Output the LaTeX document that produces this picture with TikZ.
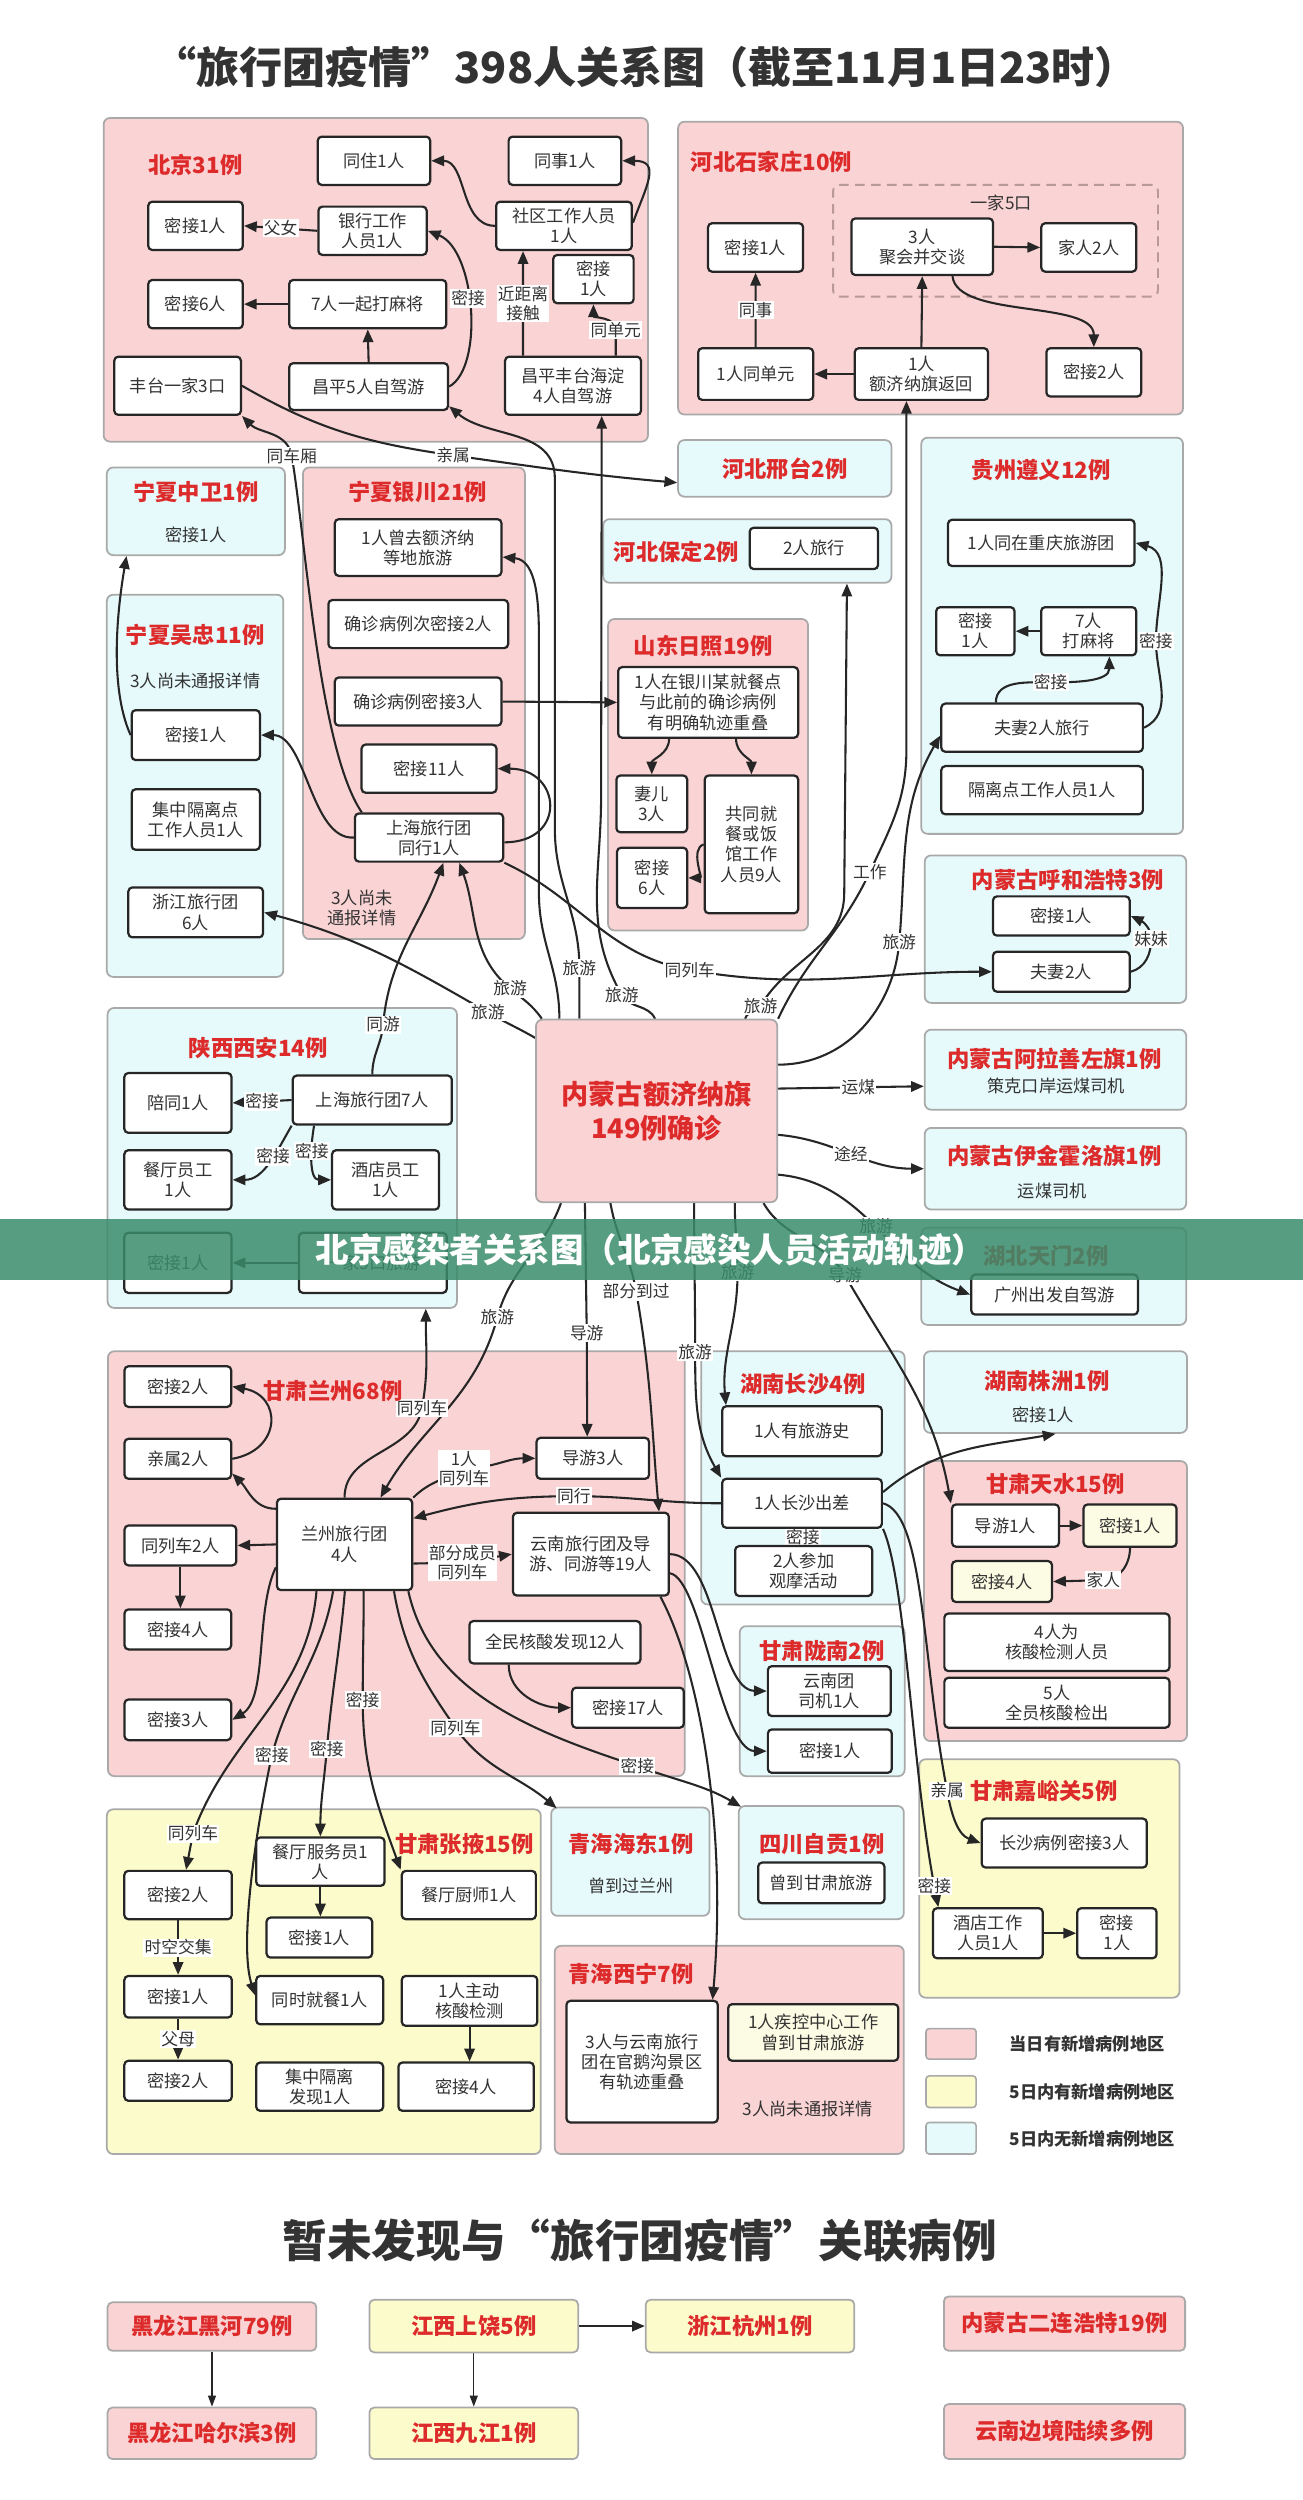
\documentclass[tikz,border=0pt]{standalone}
\usepackage{fontspec}
\setmainfont{Noto Sans CJK SC}
\usetikzlibrary{arrows.meta,calc}
\definecolor{ink}{HTML}{262626}
\definecolor{txt}{HTML}{333333}
\definecolor{pinkf}{HTML}{FAD3D4}
\definecolor{bluef}{HTML}{E6FAFB}
\definecolor{yelf}{HTML}{FCFBCB}
\definecolor{creamf}{HTML}{FCFBE3}
\definecolor{rgline}{HTML}{A9A9A9}
\definecolor{redt}{HTML}{DD2A2A}
\definecolor{bann}{HTML}{3A8C6C}
\definecolor{dashc}{HTML}{B89898}
\pgfdeclarelayer{bg}
\pgfdeclarelayer{edges}
\pgfdeclarelayer{fg}
\pgfsetlayers{bg,edges,main,fg}
\newcommand{\mybx}[7][bx]{\node[#1,minimum width={#5-#3},minimum height={#6-#4}] (#2) at ({(#3+#5)/2},{(#4+#6)/2}) {#7};}
\tikzset{
 bx/.style={draw=ink, line width=1.4pt, rounded corners=2.5pt, fill=white, align=center, inner sep=1pt, text=txt, font=\fontsize{10.8}{12.6}\selectfont},
 cr/.style={bx, fill=creamf},
 rg/.style={draw=rgline, line width=1.1pt, rounded corners=4pt, inner sep=0pt},
 pk/.style={rg, fill=pinkf}, bl/.style={rg, fill=bluef}, yl/.style={rg, fill=yelf},
 dsh/.style={draw=dashc, dash pattern=on 6pt off 4pt, line width=1.2pt, rounded corners=4pt, inner sep=0pt},
 efill/.style={draw=rgline, line width=1.1pt, rounded corners=4pt, fill=pinkf, text=redt, align=center, inner sep=0pt, font=\bfseries\fontsize{17}{21}\selectfont},
 ttl/.style={text=redt, font=\bfseries\fontsize{14}{16}\selectfont, inner sep=0pt},
 plain/.style={text=txt, font=\fontsize{10.8}{12.6}\selectfont, align=center, inner sep=0pt},
 lab/.style={fill=white, text=txt, font=\fontsize{10.5}{12}\selectfont, inner sep=0.8pt, align=center},
 ar/.style={draw=ink, line width=1.3pt, -{Triangle[length=8pt,width=6.5pt]}},
 thinar/.style={draw=ink, line width=0.9pt, -{Triangle[length=7pt,width=5pt]}},
 bt/.style={draw=rgline, line width=1.1pt, rounded corners=3pt, text=redt, inner sep=0pt, font=\bfseries\fontsize{14}{16}\selectfont},
 lgsq/.style={draw=rgline, line width=1pt, rounded corners=2pt, inner sep=0pt},
 lgt/.style={text=txt, font=\bfseries\fontsize{10.8}{12}\selectfont, anchor=west, inner sep=0pt},
}
\begin{document}
\begin{tikzpicture}[x=1pt,y=-1pt]
\useasboundingbox (0,0) rectangle (817,1568);
\begin{pgfonlayer}{bg}
\fill[white] (0,0) rectangle (817,1568);
\mybx[pk]{bj}{65}{74}{406.4}{277}{}
\mybx[pk]{sjz}{425.3}{76.3}{742}{260}{}
\mybx[bl]{xt}{425.3}{276}{559.1}{311.5}{}
\mybx[bl]{bd}{378.3}{325.6}{559.1}{365.5}{}
\mybx[bl]{zw}{67}{293.2}{178.7}{348.2}{}
\mybx[bl]{wz}{67}{373}{177.7}{612.7}{}
\mybx[pk]{yc}{190}{293.2}{329.2}{589}{}
\mybx[pk]{sd}{381.4}{388.2}{506.8}{583.6}{}
\mybx[bl]{gz}{577.8}{274.5}{742}{523}{}
\mybx[bl]{hh}{580}{536.5}{744}{629}{}
\mybx[bl]{xa}{67.5}{632.2}{286.6}{820.3}{}
\mybx[bl]{als}{580}{645.8}{744}{696}{}
\mybx[bl]{yj}{580}{707.4}{744}{758.6}{}
\mybx[bl]{tm}{577.8}{770.1}{744}{831}{}
\mybx[pk]{lz}{67.7}{847.5}{429.4}{1114}{}
\mybx[bl]{cs}{439.8}{847.5}{567.4}{1006.3}{}
\mybx[bl]{zz}{579.5}{847.5}{744.5}{898.7}{}
\mybx[pk]{ts}{579.5}{916.4}{744.5}{1092}{}
\mybx[bl]{ln}{464}{1019.9}{567.4}{1114}{}
\mybx[yl]{jyg}{576.5}{1103.4}{739.8}{1252.9}{}
\mybx[yl]{zy}{67}{1134.8}{339.2}{1351}{}
\mybx[bl]{hd}{345.7}{1133.7}{445}{1201.6}{}
\mybx[bl]{zg}{463.3}{1132.7}{566.9}{1203.7}{}
\mybx[pk]{xn}{347.9}{1220.4}{566.9}{1351}{}
\mybx[dsh]{fam}{522.5}{116}{726.3}{186}{}
\end{pgfonlayer}

% titles
\node[text=txt, font=\bfseries\fontsize{27}{30}\selectfont, inner sep=0pt] (title) at (405,42) {“旅行团疫情”398人关系图（截至11月1日23时）};
\node[ttl] (bj_t) at (122.5,103.5) {北京31例};
\node[ttl] (sjz_t) at (483.8,101.4) {河北石家庄10例};
\node[plain] (fam_t) at (628,127.5) {一家5口};
\node[ttl] (xt_t) at (492.2,294) {河北邢台2例};
\node[ttl] (bd_t) at (424.3,346) {河北保定2例};
\node[ttl] (zw_t) at (122.8,308.3) {宁夏中卫1例};
\node[plain] (zw_x) at (122.8,335.3) {密接1人};
\node[ttl] (wz_t) at (122.5,397.9) {宁夏吴忠11例};
\node[plain] (wz_x) at (122.5,427) {3人尚未通报详情};
\node[ttl] (yc_t) at (262,308.3) {宁夏银川21例};
\node[plain] (yc_x) at (227,569.5) {3人尚未\\通报详情};
\node[ttl] (sd_t) at (441,405.4) {山东日照19例};
\node[ttl] (gz_t) at (653,294.6) {贵州遵义12例};
\node[ttl] (hh_t) at (669.8,552.1) {内蒙古呼和浩特3例};
\node[ttl] (xa_t) at (161.9,657.2) {陕西西安14例};
\node[ttl] (als_t) at (661.4,664) {内蒙古阿拉善左旗1例};
\node[plain] (als_x) at (662.5,681) {策克口岸运煤司机};
\node[ttl] (yj_t) at (661.4,725.2) {内蒙古伊金霍洛旗1例};
\node[plain] (yj_x) at (660,747.1) {运煤司机};
\node[ttl] (tm_t) at (656.2,787.9) {湖北天门2例};
\node[ttl] (lz_t) at (208.9,872.5) {甘肃兰州68例};
\node[ttl] (cs_t) at (503.6,868.4) {湖南长沙4例};
\node[ttl] (zz_t) at (656.5,866.3) {湖南株洲1例};
\node[plain] (zz_x) at (654.3,887.2) {密接1人};
\node[ttl] (ts_t) at (662,931) {甘肃天水15例};
\node[ttl] (ln_t) at (515.7,1035.6) {甘肃陇南2例};
\node[ttl] (jyg_t) at (654.8,1123.3) {甘肃嘉峪关5例};
\node[ttl] (zy_t) at (291.3,1156.7) {甘肃张掖15例};
\node[ttl] (hd_t) at (395.8,1156.7) {青海海东1例};
\node[plain] (hd_x) at (395.8,1182.8) {曾到过兰州};
\node[ttl] (zg_t) at (515.5,1156.7) {四川自贡1例};
\node[ttl] (xn_t) at (395.8,1238.2) {青海西宁7例};
\node[plain] (xn_x) at (506.8,1322.9) {3人尚未通报详情};

% Beijing
\mybx{bj_tz}{199.3}{85.7}{269.8}{116}{同住1人}
\mybx{bj_ts}{319}{85.7}{389.6}{116}{同事1人}
\mybx{bj_mj1}{93}{126.5}{152.3}{156.8}{密接1人}
\mybx{bj_yh}{199.7}{129.6}{267.6}{159.9}{银行工作\\人员1人}
\mybx{bj_sq}{311.2}{126.5}{396.3}{156.8}{社区工作人员\\1人}
\mybx{bj_mj1b}{347}{159.9}{397.4}{190.2}{密接\\1人}
\mybx{bj_mj6}{93}{175.6}{152.3}{205.9}{密接6人}
\mybx{bj_7r}{181.4}{175.6}{279.9}{205.9}{7人一起打麻将}
\mybx{bj_ft}{71.7}{223.7}{151.1}{260.2}{丰台一家3口}
\mybx{bj_cp5}{181.4}{227.8}{281}{257.1}{昌平5人自驾游}
\mybx{bj_cp4}{316.8}{223.7}{402}{260.2}{昌平丰台海淀\\4人自驾游}
% Shijiazhuang
\mybx{sjz_mj1}{444.1}{140}{503.7}{170.4}{密接1人}
\mybx{sjz_3r}{534}{137}{622.8}{172.5}{3人\\聚会并交谈}
\mybx{sjz_jr}{653.1}{140}{712.7}{170.4}{家人2人}
\mybx{sjz_tdy}{437.9}{218.4}{510}{250.8}{1人同单元}
\mybx{sjz_fh}{536.1}{218.4}{619.7}{250.8}{1人\\额济纳旗返回}
\mybx{sjz_mj2}{656.3}{218.4}{715.8}{248.7}{密接2人}
\mybx{bd_2r}{470.2}{331}{550.7}{356.9}{2人旅行}
% Ningxia
\mybx{wz_mj1}{82.6}{445.4}{163}{476.7}{密接1人}
\mybx{wz_gl}{82.6}{495}{163}{533}{集中隔离点\\工作人员1人}
\mybx{wz_zj}{80.5}{556.6}{165}{587.9}{浙江旅行团\\6人}
\mybx{yc_lq}{210}{325.6}{314.5}{361.2}{1人曾去额济纳\\等地旅游}
\mybx{yc_cm2}{206}{376.3}{318.7}{406.5}{确诊病例次密接2人}
\mybx{yc_cm3}{210}{424.9}{314.5}{455.1}{确诊病例密接3人}
\mybx{yc_mj11}{226.8}{467}{311.4}{497.2}{密接11人}
\mybx{yc_sh}{222.6}{510.2}{315.6}{540.4}{上海旅行团\\同行1人}
% Shandong
\mybx{sd_1r}{387.7}{418.4}{500.6}{462.7}{1人在银川某就餐点\\与此前的确诊病例\\有明确轨迹重叠}
\mybx{sd_qe}{386.6}{486.4}{431}{522}{妻儿\\3人}
\mybx{sd_mj6}{387}{531.7}{431}{569.5}{密接\\6人}
\mybx{sd_gt}{442}{486.4}{500.6}{572.8}{共同就\\餐或饭\\馆工作\\人员9人}
% Guizhou
\mybx{gz_cq}{594.6}{326}{711.6}{355}{1人同在重庆旅游团}
\mybx{gz_mj1}{587.2}{380.8}{636.3}{411}{密接\\1人}
\mybx{gz_7r}{653}{380.8}{712.6}{411}{7人\\打麻将}
\mybx{gz_fq}{590.4}{441.3}{716.8}{471.5}{夫妻2人旅行}
\mybx{gz_gl}{590.4}{480.5}{716.8}{510.7}{隔离点工作人员1人}
% Hohhot
\mybx{hh_mj1}{622.8}{562.2}{708.5}{586.8}{密接1人}
\mybx{hh_fq}{622.8}{596.9}{708.5}{622}{夫妻2人}
% Xi'an
\mybx{xa_pt}{78}{673}{145.2}{710.5}{陪同1人}
\mybx{xa_sh}{183.6}{674.6}{283.4}{705.3}{上海旅行团7人}
\mybx{xa_ct}{78}{721.4}{145.2}{758.6}{餐厅员工\\1人}
\mybx{xa_jd}{208.3}{721.4}{275.4}{758.6}{酒店员工\\1人}
\mybx{xa_mj}{78}{773.2}{145.2}{810.9}{密接1人}
\mybx{xa_yj}{187.5}{773.2}{280.2}{810.9}{一家3口旅游}
% Ejina
\mybx[efill]{E}{336.2}{639.5}{487.5}{754}{内蒙古额济纳旗\\149例确诊}
\mybx{tm_gz}{609.2}{799.4}{713.7}{824.5}{广州出发自驾游}
% Lanzhou
\mybx{lz_mj2}{78.1}{856.9}{145}{882.4}{密接2人}
\mybx{lz_qs}{78.1}{902.4}{145}{927.5}{亲属2人}
\mybx{lz_tl}{78.1}{956.8}{148.2}{981.8}{同列车2人}
\mybx{lz_mj4}{78.1}{1009.4}{145}{1034.5}{密接4人}
\mybx{lz_mj3}{78.1}{1065.9}{145}{1091.4}{密接3人}
\mybx{lz_lz}{173.7}{940}{258.5}{997.3}{兰州旅行团\\4人}
\mybx{lz_dy}{336.5}{901.8}{407.1}{927.5}{导游3人}
\mybx{lz_yn}{321.7}{948.8}{419.5}{1000.7}{云南旅行团及导\\游、同游等19人}
\mybx{lz_qm}{294.4}{1016.7}{401.7}{1043.3}{全民核酸发现12人}
\mybx{lz_mj17}{358.8}{1058.5}{428.9}{1083.6}{密接17人}
% Changsha
\mybx{cs_ly}{453}{882}{553.1}{913.3}{1人有旅游史}
\mybx{cs_cc}{453}{927.5}{553.1}{958.2}{1人长沙出差}
\mybx{cs_gm}{461.1}{969.7}{547}{1001}{2人参加\\观摩活动}
% Tianshui
\mybx{ts_dy}{597.1}{943.6}{664.2}{970.1}{导游1人}
\mybx[cr]{ts_mj1}{679.6}{943.6}{737.9}{970.1}{密接1人}
\mybx[cr]{ts_mj4}{597.1}{979.1}{659.8}{1004.8}{密接4人}
\mybx{ts_hs}{592.3}{1012}{733.5}{1048.1}{4人为\\核酸检测人员}
\mybx{ts_qy}{592.3}{1052.3}{733.5}{1083.6}{5人\\全员核酸检出}
% Longnan
\mybx{ln_sj}{481.6}{1045}{558.6}{1076.3}{云南团\\司机1人}
\mybx{ln_mj}{481.6}{1084.7}{559.3}{1111.9}{密接1人}
% Jiayuguan
\mybx{jyg_cs3}{615.7}{1140.6}{719.3}{1171.3}{长沙病例密接3人}
\mybx{jyg_jd}{585.2}{1196.8}{654}{1228.2}{酒店工作\\人员1人}
\mybx{jyg_mj}{675.7}{1196.8}{725.4}{1228.2}{密接\\1人}
% Zhangye
\mybx{zy_mj2a}{78}{1173.4}{145.4}{1203.7}{密接2人}
\mybx{zy_cf}{160.7}{1152.5}{241.2}{1182.8}{餐厅服务员1\\人}
\mybx{zy_cs}{252}{1173.4}{336.1}{1203.7}{餐厅厨师1人}
\mybx{zy_mj1c}{167.2}{1202.7}{233.4}{1227.8}{密接1人}
\mybx{zy_mj1a}{78}{1239.3}{145.4}{1265.4}{密接1人}
\mybx{zy_ts}{160.7}{1239.3}{240.3}{1269.6}{同时就餐1人}
\mybx{zy_hs}{252}{1239.3}{337}{1270.6}{1人主动\\核酸检测}
\mybx{zy_mj2b}{78}{1292.5}{145.4}{1317.6}{密接2人}
\mybx{zy_gl}{160.7}{1293.6}{240.3}{1323.9}{集中隔离\\发现1人}
\mybx{zy_mj4}{249.9}{1293.6}{334.8}{1323.9}{密接4人}
% Zigong, Xining
\mybx{zg_b}{475.5}{1168.2}{554.7}{1193.7}{曾到甘肃旅游}
\mybx{xn_3r}{355.3}{1254.9}{450.2}{1331.2}{3人与云南旅行\\团在官鹅沟景区\\有轨迹重叠}
\mybx[cr]{xn_jk}{456.7}{1257}{563.4}{1292.5}{1人疾控中心工作\\曾到甘肃旅游}
% legend
\mybx[lgsq,fill=pinkf]{lg1}{580.8}{1272.3}{612.2}{1291.5}{}
\mybx[lgsq,fill=yelf]{lg2}{580.8}{1302}{612.2}{1321.8}{}
\mybx[lgsq,fill=bluef]{lg3}{580.8}{1331.2}{612.2}{1351}{}
\node[lgt] (lg1_t) at (633,1282) {当日有新增病例地区};
\node[lgt] (lg2_t) at (633,1312) {5日内有新增病例地区};
\node[lgt] (lg3_t) at (633,1341.5) {5日内无新增病例地区};
% bottom section
\node[text=txt, font=\bfseries\fontsize{28}{30}\selectfont, inner sep=0pt] (sub) at (401.3,1405.4) {暂未发现与“旅行团疫情”关联病例};
\mybx[bt,fill=pinkf]{hh1}{67.5}{1444}{198.4}{1474.4}{黑龙江黑河79例}
\mybx[bt,fill=pinkf]{hh2}{67.5}{1510}{198.4}{1542.3}{黑龙江哈尔滨3例}
\mybx[bt,fill=yelf]{jx1}{231.7}{1442.4}{362.6}{1475.4}{江西上饶5例}
\mybx[bt,fill=yelf]{zj1}{405}{1442.4}{535.8}{1475.4}{浙江杭州1例}
\mybx[bt,fill=yelf]{jx2}{231.7}{1510}{362.6}{1542.3}{江西九江1例}
\mybx[bt,fill=pinkf]{el}{592}{1440.3}{743.3}{1474.4}{内蒙古二连浩特19例}
\mybx[bt,fill=pinkf]{yb}{592}{1507.8}{743.3}{1542.3}{云南边境陆续多例}

\begin{pgfonlayer}{edges}
% Beijing
\draw[ar] (bj_yh.west) -- node[lab]{父女} (bj_mj1.east);
\draw[ar] (bj_7r.west) -- (bj_mj6.east);
\draw[ar] (bj_cp5.north) -- (bj_7r.south);
\draw[ar] (bj_cp5.east) .. controls +(22,-12) and +(30,12) .. node[lab,pos=.55]{密接} (bj_yh.east);
\draw[ar] (bj_sq.west) to[out=180,in=0] (bj_tz.east);
\draw[ar] ($(bj_sq.east)+(0,-2)$) to[out=70,in=0,looseness=1.6] (bj_ts.east);
\draw[ar] ($(bj_cp4.north)+(-31.4,0)$) -- node[lab]{近距离\\接触} ($(bj_sq.south)+(-25.7,0)$);
\draw[ar] ($(bj_cp4.north)+(26.8,0)$) -- (386.2,207) node[lab]{同单元} to[out=90,in=-90] (bj_mj1b.south);
\draw[ar] (bj_ft.east) to[out=-30,in=172] (284.2,285.6) node[lab]{亲属} to[out=-8,in=175] ($(xt.west)+(0,9)$);
% Shijiazhuang
\draw[ar] (sjz_fh.west) -- (sjz_tdy.east);
\draw[ar] (sjz_fh.north) -- (sjz_3r.south);
\draw[ar] (sjz_tdy.north) -- node[lab]{同事} (sjz_mj1.south);
\draw[ar] (sjz_3r.east) -- (sjz_jr.west);
\draw[ar] ($(sjz_3r.south)+(19,0)$) .. controls (600,200) and (686,188) .. (sjz_mj2.north);
% Ningxia
\draw[ar] (wz_mj1.west) .. controls (68,430) and (74,380) .. ($(zw.south)+(-43.5,0)$);
\draw[ar] (yc_sh.west) .. controls (195,527) and (192,461) .. (wz_mj1.east);
\draw[ar] ($(yc_sh.east)+(0,3)$) to[out=0,in=0,looseness=2.2] (yc_mj11.east);
\draw[ar] ($(yc_sh.north west)+(5,0)$) .. controls (200,470) and (192,340) .. (183,286) node[lab]{同车厢} to[out=100,in=-45] (bj_ft.south east);
\draw[ar] (yc_cm3.east) -- (sd_1r.west);
\draw[ar] (yc_sh.south east) to[out=-25,in=170] (432.6,608.4) node[lab]{同列车} to[out=-10,in=180] (hh_fq.west);
% Shandong
\draw[ar] ($(sd_1r.south)+(-24.5,0)$) to[out=-90,in=90] (sd_qe.north);
\draw[ar] ($(sd_1r.south)+(17.5,0)$) to[out=-90,in=90] (sd_gt.north);
\draw[ar] (sd_gt.west) to[out=-160,in=0] (sd_mj6.east);
% Guizhou
\draw[ar] (gz_7r.west) -- (gz_mj1.east);
\draw[ar] ($(gz_fq.north)+(-29,0)$) to[out=90,in=180] (659,428) node[lab]{密接} to[out=0,in=-90] ($(gz_7r.south)+(13,0)$);
\draw[ar] (gz_fq.east) to[out=25,in=-90] (725,402) node[lab]{密接} to[out=90,in=-15] (gz_cq.east);
% Hohhot
\draw[ar] (hh_fq.east) to[out=15,in=-90] (722,589) node[lab]{妹妹} to[out=90,in=-25] (hh_mj1.east);
% Xi'an
\draw[ar] (xa_sh.west) -- node[lab]{密接} (xa_pt.east);
\draw[ar] (xa_sh.south west) to[out=-120,in=0] node[lab,pos=.4]{密接} (xa_ct.east);
\draw[ar] ($(xa_sh.south)+(-36.5,0)$) to[out=-100,in=180] node[lab,pos=.35]{密接} (xa_jd.west);
\draw[ar] (xa_yj.west) -- (xa_mj.east);
\draw[ar] (xa_sh.north) to[out=90,in=-95] (240.3,642.6) node[lab]{同游} to[out=85,in=-110] ($(yc_sh.south)+(9,0)$);
% Ejina upward
\draw[ar] ($(E.north west)+(0,12)$) to[out=150,in=-30] (306,635) node[lab]{旅游} to[out=150,in=-15] (wz_zj.east);
\draw[ar] ($(E.north)+(-72,0)$) to[out=125,in=-40] (320,620) node[lab]{旅游} to[out=140,in=-70] ($(yc_sh.south)+(19,0)$);
\draw[ar] ($(E.north)+(-61,0)$) to[out=90,in=-90] (338,560) -- (338,400) to[out=90,in=-5] ($(yc_lq.east)+(0,6)$);
\draw[ar] ($(E.north)+(-48.5,0)$) -- (363.4,607) node[lab]{旅游} to[out=90,in=-90] (348,520) -- (348,300) to[out=90,in=-40] ($(bj_cp5.south east)+(0,-3)$);
\draw[ar] ($(E.north)+(-1,0)$) to[out=115,in=-60] (390,624) node[lab]{旅游} to[out=120,in=-90] (377,500) -- ($(bj_cp4.south)+(18,0)$);
\draw[ar] ($(E.north)+(55.5,0)$) to[out=75,in=-120] (477,631) node[lab]{旅游} to[out=60,in=-90] (529.5,560) -- ($(bd.south)+(62.5,0)$);
\draw[ar] (E.north east) to[out=65,in=-115] (545.5,547) node[lab]{工作} to[out=65,in=-90] (568.5,470) -- ($(sjz_fh.south)+(-9.4,0)$);
\draw[ar] ($(E.east)+(0,-29)$) to[out=0,in=-95] (564,591) node[lab]{旅游} to[out=85,in=-120] ($(gz_fq.west)+(0,5)$);
% Ejina right / down
\draw[ar] ($(E.east)+(0,-14)$) -- node[lab,pos=.55]{运煤} ($(als.west)+(0,10.4)$);
\draw[ar] ($(E.east)+(0,15)$) to[out=-5,in=180] node[lab]{途经} (yj.west);
\draw[ar] ($(E.east)+(0,40)$) to[out=-5,in=160] node[lab]{旅游} (tm_gz.west);
\draw[ar] ($(E.south)+(-60,0)$) to[out=-110,in=75] (312,826) node[lab]{旅游} to[out=-105,in=60] ($(lz_lz.north)+(22.5,0)$);
\draw[ar] ($(E.south)+(-45,0)$) -- (368,836) node[lab]{导游} -- ($(lz_dy.north)+(-3.5,0)$);
\draw[ar] ($(E.south)+(-29,0)$) to[out=-80,in=100] (399,810) node[lab]{部分到过} to[out=-80,in=95] ($(lz_yn.north)+(42.7,0)$);
\draw[ar] ($(E.south)+(23.5,0)$) to[out=-90,in=90] (436,848) node[lab]{旅游} to[out=-90,in=120] (cs_cc.north west);
\draw[ar] ($(E.south)+(49,0)$) to[out=-90,in=90] (462.6,798) node[lab]{旅游} to[out=-90,in=95] ($(cs_ly.north west)+(3,0)$);
\draw[ar] ($(E.south)+(67,0)$) to[out=-60,in=120] (530,800) node[lab]{导游} to[out=-60,in=100] (ts_dy.north west);
% Lanzhou
\draw[ar] (lz_qs.east) to[out=10,in=-10,looseness=1.8] (lz_mj2.east);
\draw[ar] ($(lz_lz.north west)+(0,7)$) to[out=180,in=-45] ($(lz_qs.south east)+(0,-4)$);
\draw[ar] (lz_lz.west) -- (lz_tl.east);
\draw[ar] (lz_tl.south) -- (lz_tl.south |- lz_mj4.north);
\draw[ar] ($(lz_lz.south west)+(0,-15)$) .. controls (160,1010) and (168,1065) .. (lz_mj3.east);
\draw[ar] ($(lz_qm.south)+(-29,0)$) to[out=-90,in=180] (lz_mj17.west);
\draw[ar] (lz_lz.north east) to[out=45,in=-150] (291,921) node[lab]{1人\\同列车} to[out=0,in=180] (lz_dy.west);
\draw[ar] ($(lz_lz.east)+(0,12)$) -- (290,980) node[lab]{部分成员\\同列车} -- (lz_yn.west);
\draw[ar] (lz_lz.north) to[out=90,in=-100] (264.7,883) node[lab]{同列车} to[out=80,in=-90] ($(xa.south)+(90,0)$);
\draw[ar] (cs_cc.west) to[out=180,in=0] (360,938.4) node[lab]{同行} to[out=180,in=15] ($(lz_lz.north east)+(0,13)$);
% Lanzhou -> Zhangye etc.
\draw[ar] ($(lz_lz.south)+(-17.6,0)$) to[out=-95,in=70] (121,1150) node[lab]{同列车} -- ($(zy_mj2a.north)+(5,0)$);
\draw[ar] ($(lz_lz.south)+(-7.2,0)$) to[out=-100,in=75] (170.5,1101) node[lab]{密接} .. controls (160,1150) and (150,1220) .. ($(zy_ts.west)+(0,-3)$);
\draw[ar] ($(lz_lz.south)+(0.2,0)$) to[out=-95,in=85] (205,1097) node[lab]{密接} to[out=-95,in=90] (zy_cf.north);
\draw[ar] ($(lz_lz.south)+(12,0)$) to[out=-90,in=90] (227.5,1066) node[lab]{密接} to[out=-90,in=110] (zy_cs.north west);
\draw[ar] ($(lz_lz.south)+(31,0)$) to[out=-80,in=125] (285.7,1083.6) node[lab]{同列车} to[out=-55,in=140] ($(hd.north west)+(4,1)$);
\draw[ar] ($(lz_lz.south)+(40,0)$) .. controls (270,1060) and (330,1085) .. (399.7,1107.7) node[lab]{密接} to[out=-20,in=150] ($(zg.north west)+(2,1)$);
% Zhangye
\draw[ar] (zy_mj2a.south) -- node[lab]{时空交集} (zy_mj1a.north);
\draw[ar] (zy_mj1a.south) -- node[lab]{父母} (zy_mj2b.north);
\draw[ar] (zy_cf.south) -- (zy_cf.south |- zy_mj1c.north);
\draw[ar] (zy_hs.south) -- (zy_hs.south |- zy_mj4.north);
% Changsha
\draw[ar] ($(cs_cc.east)+(0,-7)$) to[out=40,in=190] (zz.south);
\draw[ar] (cs_cc.south) -- node[lab]{密接} (cs_gm.north);
\draw[ar] (cs_cc.east) .. controls (580,950) and (578,1040) .. (594,1123) node[lab]{亲属} to[out=-80,in=160] (jyg_cs3.west);
\draw[ar] (cs_cc.south east) .. controls (568,990) and (572,1110) .. (586,1183) node[lab]{密接} -- ($(jyg_jd.north west)+(4,0)$);
% Tianshui
\draw[ar] (ts_dy.east) -- (ts_mj1.west);
\draw[ar] (ts_mj1.south) to[out=-90,in=0] (692,991) node[lab]{家人} -- (ts_mj4.east);
% Yunnan group
\draw[ar] (lz_yn.east) .. controls (450,975) and (450,1060) .. (ln_sj.west);
\draw[ar] ($(lz_yn.east)+(0,12)$) .. controls (440,990) and (452,1098) .. (ln_mj.west);
\draw[ar] ($(lz_yn.south east)+(-6,0)$) .. controls (440,1050) and (456,1150) .. ($(xn_3r.north east)+(-4,0)$);
% Jiayuguan
\draw[ar] (jyg_jd.east) -- (jyg_mj.west);
% bottom
\draw[thinar] (hh1.south) -- (hh2.north);
\draw[thinar] (jx1.south) -- (jx2.north);
\draw[ar] (jx1.east) -- (zj1.west);
\end{pgfonlayer}

\begin{pgfonlayer}{fg}
\fill[bann, fill opacity=0.85] (0,764.5) rectangle (817,802.5);
\node[text=white, font=\bfseries\fontsize{21}{24}\selectfont, inner sep=0pt] (banner_t) at (408,784) {北京感染者关系图（北京感染人员活动轨迹）};
\end{pgfonlayer}
\end{tikzpicture}
\end{document}
